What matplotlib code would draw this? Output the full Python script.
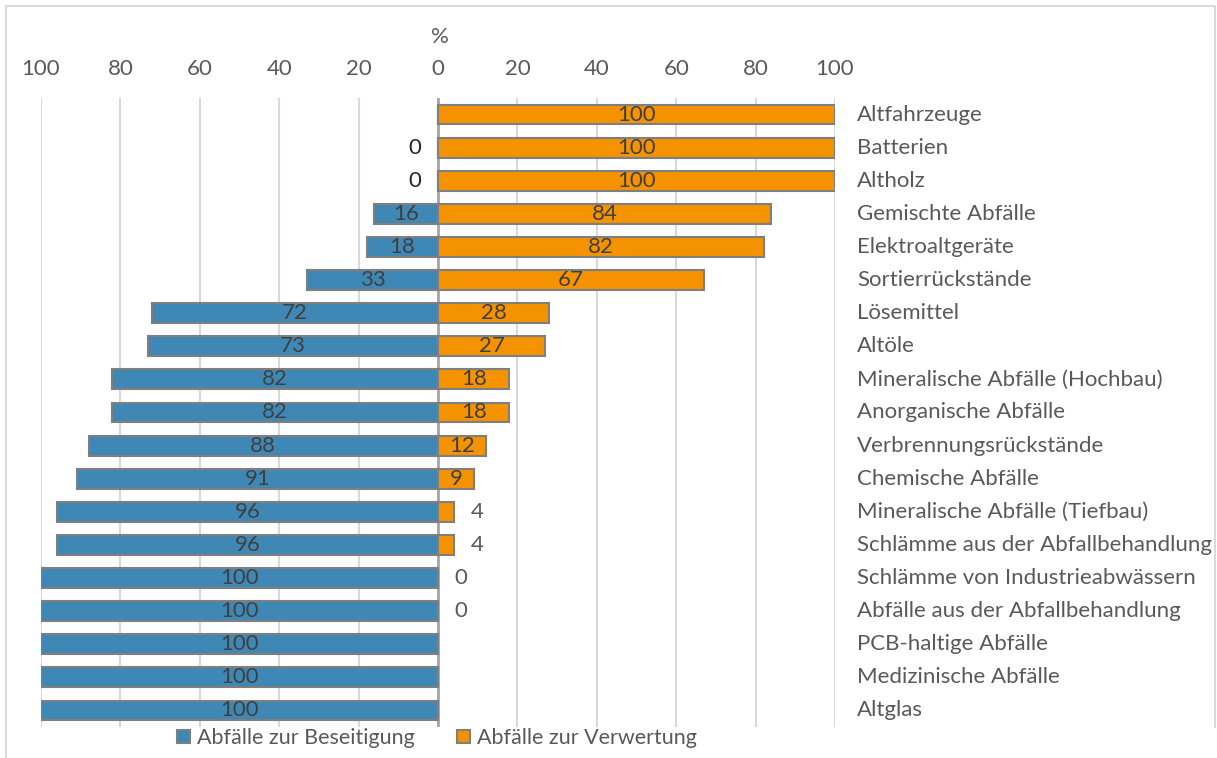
import numpy as np
import matplotlib
matplotlib.use("Agg")
import matplotlib.pyplot as plt
from matplotlib.patches import Rectangle
from matplotlib.lines import Line2D

plt.rcParams['font.family'] = ['Lato', 'DejaVu Sans']

categories = ["Altfahrzeuge", "Batterien", "Altholz", "Gemischte Abfälle", "Elektroaltgeräte",
              "Sortierrückstände", "Lösemittel", "Altöle", "Mineralische Abfälle (Hochbau)",
              "Anorganische Abfälle", "Verbrennungsrückstände", "Chemische Abfälle",
              "Mineralische Abfälle (Tiefbau)", "Schlämme aus der Abfallbehandlung",
              "Schlämme von Industrieabwässern", "Abfälle aus der Abfallbehandlung",
              "PCB-haltige Abfälle", "Medizinische Abfälle", "Altglas"]
beseitigung = [np.nan, 0, 0, 16, 18, 33, 72, 73, 82, 82, 88, 91, 96, 96, 100, 100, 100, 100, 100]
verwertung = [100, 100, 100, 84, 82, 67, 28, 27, 18, 18, 12, 9, 4, 4, 0, 0, np.nan, np.nan, np.nan]
ticks = [-100, -80, -60, -40, -20, 0, 20, 40, 60, 80, 100]
tick_labels = ["100", "80", "60", "40", "20", "0", "20", "40", "60", "80", "100"]

blue = "#3f88b5"
orange = "#f59200"
edge = "#7f7f7f"
txt = "#404040"
grey_txt = "#595959"
fs = 16

fig = plt.figure(figsize=(12.17, 7.58), dpi=100)
ax = fig.add_axes([41 / 1217, 1 - 727 / 758, 794 / 1217, 629 / 758])

y = np.arange(len(categories))
bes = np.array(beseitigung, dtype=float)
ver = np.array(verwertung, dtype=float)

ax.barh(y, -np.nan_to_num(bes), height=0.6, color=blue, edgecolor=edge, linewidth=1.5, zorder=3)
ax.barh(y, np.nan_to_num(ver), height=0.6, color=orange, edgecolor=edge, linewidth=1.5, zorder=3)

for i in range(len(categories)):
    b = bes[i]
    if not np.isnan(b):
        if b >= 5:
            ax.text(-b / 2, i, f"{b:.0f}", ha="center", va="center", fontsize=fs, color=txt, zorder=4)
        else:
            ax.annotate(f"{b:.0f}", (-b, i), xytext=(-12, 0), textcoords="offset points",
                        ha="right", va="center", fontsize=fs, color="#262626", zorder=4)
    v = ver[i]
    if not np.isnan(v):
        if v >= 5:
            ax.text(v / 2, i, f"{v:.0f}", ha="center", va="center", fontsize=fs, color=txt, zorder=4)
        else:
            ax.annotate(f"{v:.0f}", (v, i), xytext=(12, 0), textcoords="offset points",
                        ha="left", va="center", fontsize=fs, color=grey_txt, zorder=4)
    ax.annotate(categories[i], (1, i), xycoords=("axes fraction", "data"), xytext=(16, 0),
                textcoords="offset points", ha="left", va="center", fontsize=fs, color=grey_txt)

ax.set_xlim(-100, 100)
ax.set_ylim(len(categories) - 0.5, -0.5)
ax.set_xticks(ticks)
ax.set_xticklabels(tick_labels, fontsize=fs, color=grey_txt)
ax.xaxis.tick_top()
ax.tick_params(axis="x", length=0, pad=14)
ax.set_yticks([])
ax.grid(axis="x", color="#d9d9d9", linewidth=1.5, zorder=0)
ax.axvline(0, color="#a6a6a6", linewidth=2, zorder=2)
for s in ax.spines.values():
    s.set_visible(False)

fig.text(440 / 1217, 1 - 37 / 758, "%", ha="center", va="center", fontsize=fs, color=grey_txt)

handles = [Rectangle((0, 0), 1, 1, facecolor=blue, edgecolor=edge, linewidth=1.5),
           Rectangle((0, 0), 1, 1, facecolor=orange, edgecolor=edge, linewidth=1.5)]
fig.legend(handles, ["Abfälle zur Beseitigung", "Abfälle zur Verwertung"], loc="center",
           bbox_to_anchor=(437 / 1217, 1 - 738 / 758), ncol=2, frameon=False, fontsize=15.5,
           labelcolor=grey_txt, handlelength=0.6, handleheight=0.6, handletextpad=0.3,
           columnspacing=2.0)

# chart frame
fig.add_artist(Line2D([6 / 1217, 1215 / 1217], [1 - 6 / 758, 1 - 6 / 758], color="#d9d9d9", linewidth=1.5))
fig.add_artist(Line2D([6 / 1217, 6 / 1217], [0, 1 - 6 / 758], color="#d9d9d9", linewidth=1.5))
fig.add_artist(Line2D([1215 / 1217, 1215 / 1217], [1 - 727 / 758, 1 - 6 / 758], color="#d9d9d9", linewidth=1.5))

fig.savefig("out.png", dpi=100)
